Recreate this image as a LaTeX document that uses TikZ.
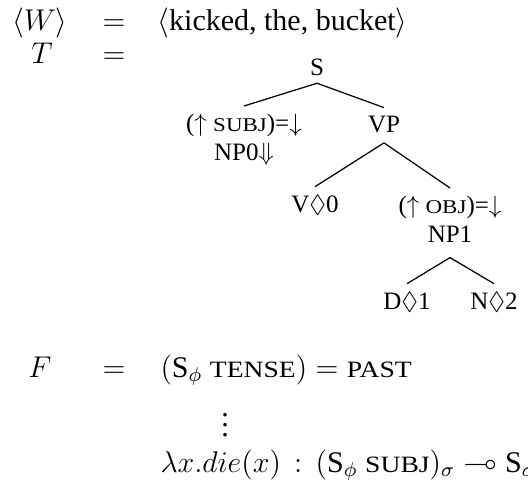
\documentclass[tikz,border=0pt]{standalone}
\usepackage{amsmath}
\usepackage{amssymb}
\usepackage{graphicx}
\usepackage{fontspec}
\setmainfont{Liberation Serif}
\usepackage{tikz}
\usetikzlibrary {positioning}
\newcommand{\smc}[1]{\scalebox{0.92}[0.78]{#1}}
\tikzset{
    row/.style={anchor=base, inner sep=0pt, font=\fontsize{12}{14}\selectfont},
    rowtext/.style={row, anchor=base west},
        treenode/.style={inner sep=3pt, align=center,
                         font=\fontsize{10}{11.5}\selectfont},
        leaf/.style={treenode, anchor=base},
        branch/.style={line width=0.5pt},
 }
\begin{document}
\begin{tikzpicture}[x=0.4pt, y=-0.4pt]
    \useasboundingbox (0,0) rectangle (528,481);

    % W and T
    \node[row] (w) at (40,30) {$\langle W\rangle$};
    \node[row] (eqw) at (114,30) {$=$};
    \node[rowtext] (words) at (157,30) {$\langle$kicked, the, bucket$\rangle$};
    \node[row] (t) at (42,63) {$T$};
    \node[row] (eqt) at (114,63) {$=$};

    % the tree
    \node[leaf] (s) at (317,75) {S};
    \node[treenode, anchor=north] (np0) at (244,106)
        {($\uparrow$ \smc{SUBJ})=$\downarrow$\\NP0$\Downarrow$};
    \node[leaf] (vp) at (384,132) {VP};
    \node[leaf] (v0) at (315,212) {V$\Diamond$0};
    \node[treenode, anchor=north] (np1) at (450,188)
        {($\uparrow$ \smc{OBJ})=$\downarrow$\\NP1};
    \node[leaf] (d1) at (407,309) {D$\Diamond$1};
    \node[leaf] (n2) at (494,309) {N$\Diamond$2};

    \coordinate[below=1pt of vp.south] (vproot);
    \coordinate[below=3pt of np1.south] (np1root);

    \draw[branch] (s.south) -- (np0.north);
    \draw[branch] (s.south) -- (vp.north);
    \draw[branch] (vproot) -- (v0.north);
    \draw[branch] (vproot) -- (np1.north);
    \draw[branch] (np1root) -- (d1.north);
    \draw[branch] (np1root) -- (n2.north);

    % F
    \node[row] (f) at (40,377) {$F$};
    \node[row] (eqf) at (114,377) {$=$};
    \node[rowtext] (tense) at (160,377)
        {$(\textrm{S}_\phi\ \text{\smc{TENSE}}) = \text{\smc{PAST}}$};
    \node[row, anchor=center] (dots) at (225,418) {$\vdots$};
    \node[rowtext] (lam) at (160,472)
        {$\lambda x.die(x)\,:\,(\textrm{S}_\phi\ \text{\smc{SUBJ}})_\sigma \multimap \textrm{S}_\sigma$};

\end{tikzpicture}
\end{document}
